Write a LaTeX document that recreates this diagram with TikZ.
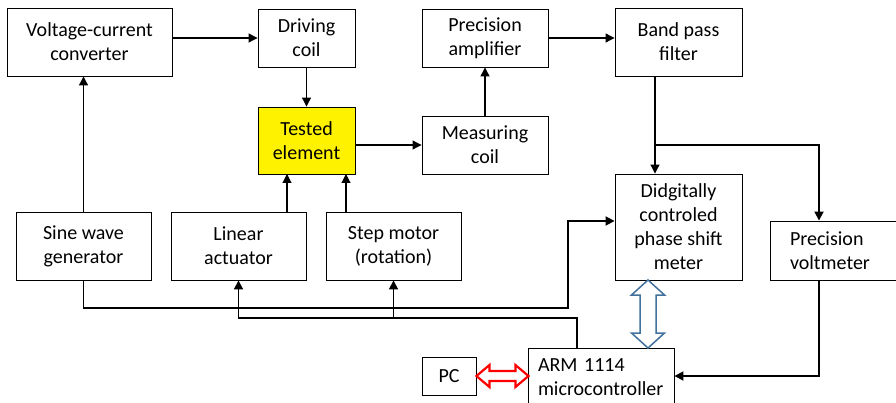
\documentclass[tikz,border=0pt]{standalone}
\usepackage{fontspec}
\setmainfont{Carlito}
\usetikzlibrary{arrows.meta,calc}
\definecolor{busblue}{RGB}{65,113,156}

\begin{document}
\begin{tikzpicture}[x=1pt,y=-1pt,
    blk/.style={draw, line width=0.9pt, align=center, inner sep=0pt, font=\fontsize{20}{24}\selectfont},
    conn/.style={line width=1.1pt, -{Triangle[length=9pt,width=9pt]}},
    heavy/.style={line width=1.8pt},
    busarrow/.style={draw=busblue, line width=1.5pt, fill=white, line join=miter}]
    \path[use as bounding box, clip] (0,0) rectangle (896,403);
    \node[blk, minimum width=165pt, minimum height=68pt] (vcc) at (89.5,42) {Voltage-current\\converter};
    \node[blk, minimum width=97pt, minimum height=58pt] (drive) at (306.5,38) {Driving\\coil};
    \node[blk, minimum width=97pt, minimum height=67pt, fill=yellow] (tested) at (306.5,140.5) {Tested\\element};
    \node[blk, minimum width=126pt, minimum height=58pt] (amp) at (485,38) {Precision\\amplifier};
    \node[blk, minimum width=126pt, minimum height=58pt] (meas) at (485,145) {Measuring\\coil};
    \node[blk, minimum width=127pt, minimum height=68pt] (bpf) at (678.5,42) {Band pass\\filter};
    \node[blk, minimum width=127pt, minimum height=106pt] (phase) at (678.5,227) {Didgitally\\controled\\phase shift\\meter};
    \node[blk, align=left, text width=110pt, inner xsep=20pt, minimum height=59pt] (volt) at (845,250.5) {Precision\\voltmeter};
    \node[blk, minimum width=135pt, minimum height=68pt] (sine) at (83.5,246) {Sine wave\\generator};
    \node[blk, minimum width=135pt, minimum height=68pt] (lin) at (238.5,246) {Linear\\actuator};
    \node[blk, minimum width=135pt, minimum height=68pt] (step) at (393.5,246) {Step motor\\(rotation)};
    \node[blk, align=left, text width=126pt, inner xsep=10pt, minimum height=58pt] (arm) at (601,377) {ARM 1114\\microcontroller};
    \node[blk, minimum width=54pt, minimum height=38pt] (pc) at (449,376) {PC};
    \coordinate (split) at (655,145); \coordinate (vturn) at (819,145);
    \coordinate (sbend) at (568,308); \coordinate (pin) at ($(phase.west)+(0,-6)$);
    \coordinate (abend) at (577,318);
    \coordinate (tin1) at (287,174); \coordinate (tin2) at (346,174);
    \coordinate (bus) at (648,280);
    \draw[conn] (drive.west -| vcc.east) -- (drive.west);
    \draw[conn] (drive.south) -- (tested.north);
    \draw[conn] (meas.west -| tested.east) -- (meas.west);
    \draw[conn] (meas.north) -- (amp.south);
    \draw[conn] (amp.east) -- (amp.east -| bpf.west);
    \draw[conn] (split |- bpf.south) -- (split |- phase.north);
    \draw[conn, heavy] (split) -- (vturn) -- (vturn |- volt.north);
    \draw[conn, heavy] (vturn |- volt.south) |- (pc.east -| arm.east);
    \draw[conn] (sine.north) -- (sine.north |- vcc.south);
    \draw[conn, heavy] (sine.south) |- (sbend) |- (pin);
    \draw[conn, heavy] (abend |- arm.north) -- (abend) -| (lin.south);
    \draw[conn, heavy] (step.south |- abend) -- (step.south);
    \foreach \s/\t in {lin/tin1, step/tin2} {\draw[conn] (\t |- \s.north) -- (\t);}
    \draw[busarrow, shift={(bus)}] (0,0) -- (16.5,15) -- (8,15) -- (8,53) -- (16.5,53) -- (0,68) -- (-16.5,53) -- (-8,53) -- (-8,15) -- (-16.5,15) -- cycle;
    \draw[busarrow, draw=red, line width=2.2pt, shift={(pc.east)}] (0,0) -- (13,-11) -- (13,-5) -- (39,-5) -- (39,-11) -- (52,0) -- (39,11) -- (39,5) -- (13,5) -- (13,11) -- cycle;
\end{tikzpicture}
\end{document}
